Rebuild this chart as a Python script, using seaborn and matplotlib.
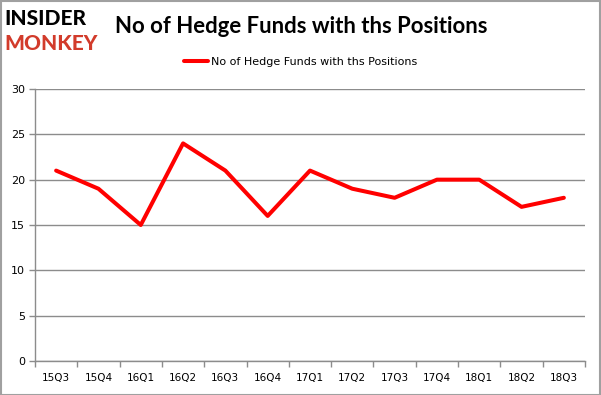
import matplotlib
matplotlib.use("Agg")
import matplotlib.pyplot as plt
from matplotlib.lines import Line2D
import numpy as np
import pandas as pd
import seaborn as sns

quarters = ["15Q3", "15Q4", "16Q1", "16Q2", "16Q3", "16Q4", "17Q1",
            "17Q2", "17Q3", "17Q4", "18Q1", "18Q2", "18Q3"]
funds = [21, 19, 15, 24, 21, 16, 21, 19, 18, 20, 20, 17, 18]
series_name = "No of Hedge Funds with ths Positions"

df = pd.DataFrame({"pos": np.arange(len(quarters)), "funds": funds,
                   "series": series_name})

sns.set_theme(style="white")
plt.rcParams['font.family'] = ['DejaVu Sans']
plt.rcParams['text.color'] = 'black'
plt.rcParams['xtick.color'] = 'black'
plt.rcParams['ytick.color'] = 'black'

fig = plt.figure(figsize=(6.01, 3.95), dpi=100)
ax = fig.add_axes([0.0582, 0.0861, 0.9152, 0.6886])

sns.lineplot(data=df, x="pos", y="funds", hue="series", palette=["#FF0000"],
             linewidth=2.9, ax=ax, legend=False)

grid = "#8C8C8C"
ax.set_xlim(-0.5, len(quarters) - 0.5)
ax.set_ylim(0, 30)
ax.set_yticks(range(0, 31, 5))
ax.yaxis.grid(True, color=grid, linewidth=1)
ax.set_axisbelow(True)
ax.set_xticks(range(len(quarters)))
ax.set_xticklabels(quarters, fontsize=7.5)
ax.set_xticks(np.arange(-0.5, len(quarters), 1), minor=True)
ax.tick_params(axis="x", which="major", length=0, pad=9)
ax.tick_params(axis="x", which="minor", length=4, color=grid, width=1,
               bottom=True)
ax.tick_params(axis="y", length=4, color=grid, width=1, labelsize=8, pad=3,
               direction="out", left=True, labelcolor="black")
ax.tick_params(axis="x", labelcolor="black")
for s in ["top", "right"]:
    ax.spines[s].set_visible(False)
for s in ["left", "bottom"]:
    ax.spines[s].set_color(grid)
    ax.spines[s].set_linewidth(1)
ax.set_xlabel("")
ax.set_ylabel("")

fig.text(0.191, 0.932, series_name, fontsize=15.9, fontweight="bold",
         va="center", ha="left", color="black", family=["Lato", "DejaVu Sans"])
fig.text(0.008, 0.953, "INSIDER", fontsize=15, fontweight="black",
         color="black", va="center", ha="left", family=["Lato", "DejaVu Sans"])
fig.text(0.008, 0.890, "MONKEY", fontsize=15, fontweight="black",
         color="#D23B2B", va="center", ha="left", family=["Lato", "DejaVu Sans"])

handle = Line2D([], [], color="#FF0000", linewidth=2.9)
fig.legend([handle], [series_name], loc="center", bbox_to_anchor=(0.5, 0.843),
           frameon=False, fontsize=8, handlelength=2.2, handletextpad=0.2,
           labelcolor="black")

fig.patches.append(plt.Rectangle((0.001, 0.001), 0.997, 0.997,
                                 transform=fig.transFigure, fill=False,
                                 edgecolor="#A0A0A0", linewidth=1.5))

fig.savefig("out.png", dpi=100)
